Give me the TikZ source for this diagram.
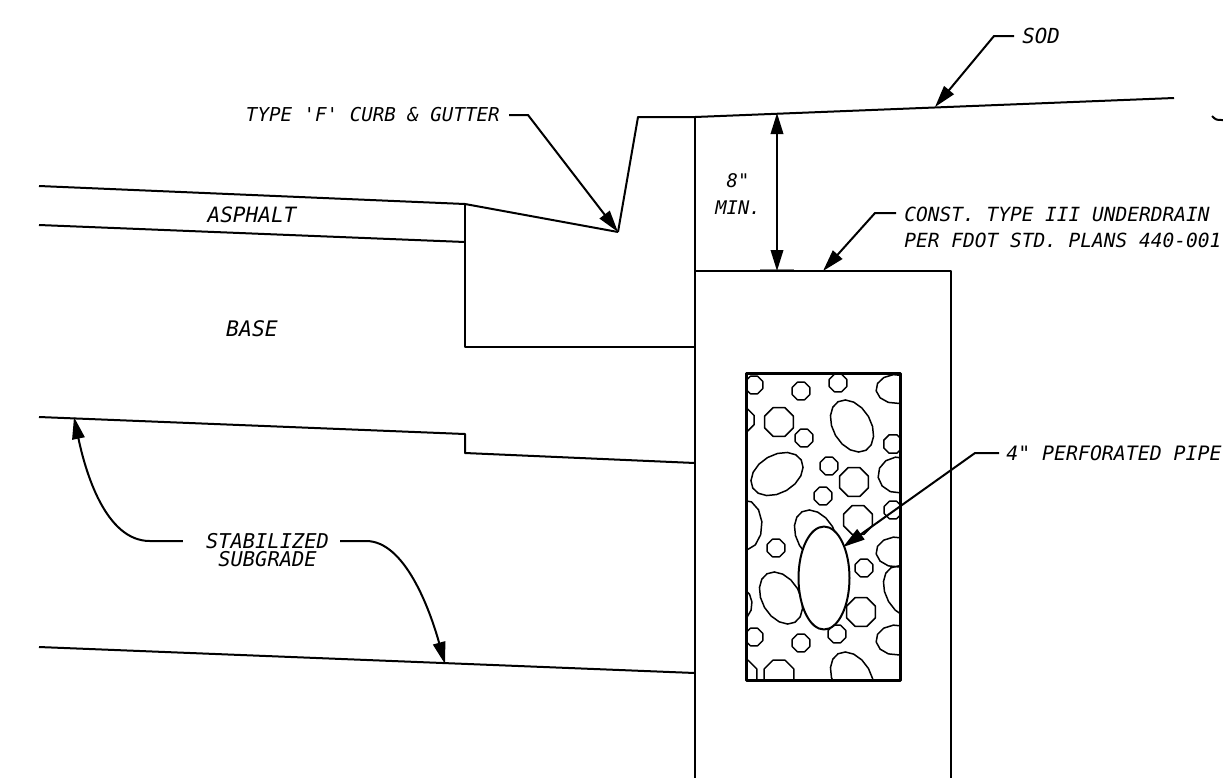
\documentclass[tikz,border=0pt]{standalone}
\usepackage{fontspec}
\setmainfont{DejaVu Sans Mono}
\usetikzlibrary{arrows.meta,shapes.geometric}

\begin{document}
\begin{tikzpicture}[x=0.02cm,y=-0.02cm,line join=round,
    main/.style = {line width=0.04cm},
    leader/.style = {main,-{Triangle[length=0.44cm,width=0.25cm]}},
    pebble/.style = {line width=0.03cm},
    note/.style = {inner sep=0pt,align=center,font=\itshape\fontsize{#1}{10.6}\selectfont},
    note/.default = 10.9]

\useasboundingbox (0,0) rectangle (1223,778);

\node[note=11.8] (sod) [anchor=west] at (1022,36) {SOD};
\node[note] (curb) [anchor=east] at (500,115) {TYPE \textquotesingle F\textquotesingle{} CURB \& GUTTER};
\node[note=12] (asphalt) at (252,215) {ASPHALT};
\node[note=12.2] (base) at (252,329) {BASE};
\node[note=10.7] (min) at (738,194) {8\textquotedbl\\[4.4pt]MIN.};
\node[note=11.1] (drain) [anchor=west,align=left] at (904,227.5) {CONST. TYPE III UNDERDRAIN\\[4.6pt]PER FDOT STD. PLANS 440-001};
\node[note=11.3] (pipe) [anchor=west] at (1006,453) {4\textquotedbl{} PERFORATED PIPE};
\node[note=11.6] (subgrade) at (267.5,550) {STABILIZED\\SUBGRADE};

\coordinate (lipa) at (638,117);
\coordinate (lipb) at (695,117);
\coordinate (sodend) at (1174,98);
\coordinate (flow) at (618,232);
\coordinate (edgea) at (465,204);
\coordinate (edgeb) at (465,242);
\coordinate (edgec) at (465,347);
\coordinate (backc) at (695,347);
\coordinate (roada) at (39,186);
\coordinate (roadb) at (39,225);
\coordinate (stepa) at (39,417);
\coordinate (stepb) at (465,434);
\coordinate (stepc) at (465,453);
\coordinate (stepd) at (695,463);
\coordinate (lowa) at (39,647);
\coordinate (lowb) at (695,673);
\coordinate (wallend) at (695,778);
\coordinate (trenchtl) at (695,271);
\coordinate (trenchtr) at (951,271);
\coordinate (trenchbr) at (951,778);
\coordinate (rocktl) at (746,373);
\coordinate (rockbr) at (900,680);
\coordinate (sodtip) at (935,107);
\coordinate (droptop) at (777,113);
\coordinate (dropbot) at (777,271);
\coordinate (draintip) at (823,271);
\coordinate (pipetip) at (843,547);
\coordinate (lowtip) at (445,664);

% ground and pavement
\draw[line width=0.04cm,gray] (760,270) -- (794,270);
\draw[main] (flow) -- (lipa) -- (lipb) -- (sodend);
\draw[main] (roada) -- (edgea) -- (flow);
\draw[main] (roadb) -- (edgeb);
\draw[main] (edgea) -- (edgec) -- (backc);
\draw[main] (stepa) -- (stepb) -- (stepc) -- (stepd);
\draw[main] (lowa) -- (lowb);
\draw[main] (lipb) -- (wallend);
\draw[main] (trenchtl) -- (trenchtr) -- (trenchbr);
\draw[main] (1212,116) .. controls (1216,120) .. (1223,120);

% gravel
\begin{scope}
\clip (rocktl) rectangle (rockbr);
\foreach \cx/\cy/\ra/\rb/\rot/\sides in {
    754/385/9.5/9.5/0/9, 801/391/9.5/9.5/0/9, 838/383/9.5/9.5/0/9, 896/389/20/14.5/0/13,
    743/420/12/12/0/9, 779/422/15.5/15.5/0/9, 804/438/9.5/9.5/0/9, 852/426/28/19/60/17,
    893/444/10/10/0/9, 777/474/28/19/-30/17, 829/466/9.5/9.5/0/9, 854/482/15.5/15.5/0/9,
    898/475/20/18/0/13, 823/496/9.5/9.5/0/9, 893/510/9.5/9.5/0/9, 858/520/15.5/15.5/0/9,
    745/525/17/25/0/13, 816/536/28/19/60/17, 776/548/9.5/9.5/0/9, 896/552/20/15/0/13,
    864/568/9.5/9.5/0/9, 781/598/28/19/60/17, 740/604/12/16/0/13, 905/592/28/19/60/17,
    861/612/15.5/15.5/0/9, 754/637/9.5/9.5/0/9, 801/643/9.5/9.5/0/9, 837/634/9.5/9.5/0/9,
    896/640/20/15/0/13, 742/675/16/16/0/9, 779/675/16/16/0/9, 852/678/28/19/60/17}
  \draw[pebble] plot[samples=\sides,domain=22.5:382.5] ({\cx+\ra*cos(\x)*cos(\rot)-\rb*sin(\x)*sin(\rot)},{\cy+\ra*cos(\x)*sin(\rot)+\rb*sin(\x)*cos(\rot)}) -- cycle;
\end{scope}
\draw[line width=0.06cm] (rocktl) rectangle (rockbr);
\node[draw,ellipse,main,fill=white,minimum width=1.02cm,minimum height=2.06cm,inner sep=0pt] (perf) at (824,578) {};

% leaders
\draw[leader] (sod.west) ++(-8,0) -- ++(-20,0) -- (sodtip);
\draw[leader] (curb.east) ++(9,0) -- ++(19,0) -- (flow);
\draw[leader] (drain.west) ++(-8,-14.5) -- ++(-21,0) -- (draintip);
\draw[leader] (pipe.west) ++(-7,0) -- ++(-24,0) -- (pipetip);
\draw[main,{Triangle[length=0.42cm,width=0.25cm]}-{Triangle[length=0.42cm,width=0.25cm]}] (droptop) -- (dropbot);
\draw[leader] (subgrade.west) ++(-23,-9) -- ++(-33,0) .. controls (105,541) and (85,470) .. (74,417);
\draw[leader] (subgrade.east) ++(11,-9) -- ++(26,0) .. controls (405,541) and (430,610) .. (lowtip);

\end{tikzpicture}
\end{document}
